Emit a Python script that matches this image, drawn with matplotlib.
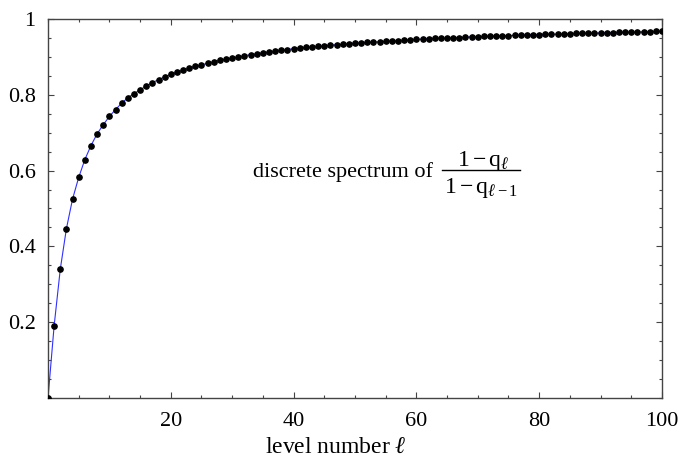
import numpy as np
import matplotlib
matplotlib.use('Agg')
import matplotlib.pyplot as plt
from matplotlib.ticker import MultipleLocator
from matplotlib.lines import Line2D

plt.rcParams['font.family'] = ['Liberation Serif', 'DejaVu Serif']
plt.rcParams['mathtext.fontset'] = 'custom'
plt.rcParams['mathtext.rm'] = 'Liberation Serif'
plt.rcParams['mathtext.it'] = 'Liberation Serif:italic'

# level numbers and the ratio (1 - q_l) / (1 - q_{l-1})
levels = list(range(0, 101))
ratio = [
    0.000, 0.191, 0.340, 0.447, 0.525, 0.582, 0.629, 0.666, 0.697, 0.721,
    0.743, 0.761, 0.778, 0.792, 0.803, 0.813, 0.823, 0.832, 0.840, 0.847,
    0.854, 0.859, 0.865, 0.870, 0.875, 0.879, 0.883, 0.887, 0.891, 0.894,
    0.897, 0.900, 0.903, 0.906, 0.908, 0.911, 0.913, 0.915, 0.917, 0.919,
    0.922, 0.923, 0.925, 0.926, 0.928, 0.929, 0.931, 0.932, 0.933, 0.935,
    0.936, 0.937, 0.938, 0.939, 0.940, 0.941, 0.942, 0.943, 0.944, 0.945,
    0.946, 0.947, 0.948, 0.949, 0.949, 0.950, 0.951, 0.951, 0.952, 0.953,
    0.953, 0.954, 0.955, 0.955, 0.956, 0.956, 0.957, 0.958, 0.958, 0.959,
    0.959, 0.960, 0.960, 0.960, 0.961, 0.961, 0.962, 0.962, 0.963, 0.963,
    0.963, 0.964, 0.964, 0.965, 0.965, 0.965, 0.966, 0.966, 0.966, 0.967,
    0.967,
]
x_ticks = [20, 40, 60, 80, 100]
y_ticks = [0.2, 0.4, 0.6, 0.8, 1.0]
y_tick_labels = ['0.2', '0.4', '0.6', '0.8', '1']

fig = plt.figure(figsize=(6.81, 4.61), dpi=100)
ax = fig.add_axes([0.0705, 0.1367, 0.9015, 0.8221])

# thin blue line under the black dots
ax.plot(levels, ratio, color='#3030ff', linewidth=0.8, zorder=2)
ax.plot(levels, ratio, linestyle='none', marker='o', markersize=3.8,
        color='black', zorder=3)

ax.set_xlim(0, 100)
ax.set_ylim(0, 1)
ax.set_xticks(x_ticks)
ax.set_xticklabels([str(t) for t in x_ticks])
ax.set_yticks(y_ticks)
ax.set_yticklabels(y_tick_labels)
ax.xaxis.set_minor_locator(MultipleLocator(5))
ax.yaxis.set_minor_locator(MultipleLocator(0.05))

ax.tick_params(which='both', direction='in', top=True, right=True,
               color='#444444', labelsize=16, width=0.8)
ax.tick_params(which='major', length=4.5)
ax.tick_params(which='minor', length=2.5)
ax.tick_params(axis='x', pad=10)
ax.tick_params(axis='y', pad=9)
for s in ax.spines.values():
    s.set_color('#444444')
    s.set_linewidth(1.0)

ax.text(0.469, -0.129, r'level number $\ell$', transform=ax.transAxes,
        ha='center', va='center', fontsize=17)

# label with a stacked fraction
ax.text(0.627, 0.583, 'discrete spectrum of', transform=ax.transAxes,
        ha='right', va='baseline', fontsize=16)
ax.text(0.7085, 0.612, r'$1-\mathrm{q}_{\ell}$', transform=ax.transAxes,
        ha='center', va='baseline', fontsize=17)
ax.text(0.705, 0.5417, r'$1-\mathrm{q}_{\ell-1}$', transform=ax.transAxes,
        ha='center', va='baseline', fontsize=17)
ax.add_line(Line2D([0.641, 0.769], [0.6016, 0.6016], transform=ax.transAxes,
                   color='black', linewidth=1.0))

plt.savefig('out.png', dpi=100)
plt.close()
